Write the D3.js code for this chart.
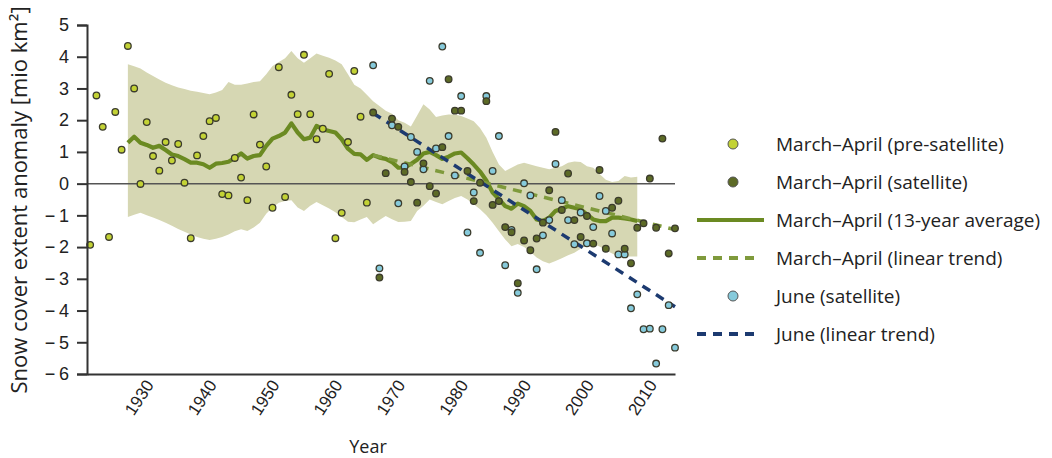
<!DOCTYPE html>
<html>
<head>
<meta charset="utf-8">
<script src="https://cdn.jsdelivr.net/npm/d3@7"></script>
<style>
  body { margin: 0; background: #fff; }
  svg { font-family: "Open Sans", sans-serif; }
</style>
</head>
<body>
<div id="chart"></div>
<script>
// March-April, pre-satellite (1922-1966)
var preYears = d3.range(1922, 1967);
var preValues = [-1.93, 2.78, 1.79, -1.68, 2.26, 1.07, 4.34, 3.0, -0.01, 1.94,
  0.87, 0.41, 1.31, 0.73, 1.25, 0.03, -1.72, 0.89, 1.5, 1.97,
  2.07, -0.33, -0.37, 0.81, 0.19, -0.52, 2.18, 1.23, 0.54, -0.76,
  3.67, -0.42, 2.8, 2.19, 4.06, 2.19, 1.4, 1.73, 3.46, -1.72,
  -0.92, 1.31, 3.55, 2.11, -0.6];

// satellite era (1967-2015)
var satYears = d3.range(1967, 2016);
var maSatValues = [2.24, -2.96, 0.33, 2.05, 1.79, 0.37, 0.05, -0.6, 0.64, -0.08,
  -0.31, 1.15, 3.29, 2.3, 2.3, 0.4, -0.55, 0.03, 2.6, -0.67,
  -0.55, -1.37, -1.53, -3.14, -1.79, -2.1, -1.73, -1.23, -0.21, 1.63,
  -0.83, 0.32, -1.15, -1.68, -1.02, -1.89, 0.43, -2.05, -0.76, -0.54,
  -2.05, -2.51, -1.39, -1.25, 0.16, -1.39, 1.42, -2.2, -1.41];
var juneValues = [3.73, -2.67, null, 1.84, -0.62, 0.54, 1.47, 1.0, 0.45, 3.24,
  1.11, 4.32, 1.5, 0.26, 2.76, -1.54, -0.28, -2.18, 2.76, 0.4,
  1.5, -2.57, -1.46, -3.44, 0.01, -0.37, -2.7, -1.63, -1.15, 0.62,
  -0.52, -1.15, -1.91, -0.91, -1.88, -1.37, -0.39, -0.86, -1.57, -2.23,
  -2.23, -3.93, -3.49, -4.59, -4.57, -5.67, -4.59, -3.83, -5.17];

// 13-year average with its range (1928-2009)
var avgYears = d3.range(1928, 2010);
var avgValues = [1.29, 1.48, 1.29, 1.22, 1.13, 1.19, 1.06, 0.92, 0.87, 0.77,
  0.66, 0.66, 0.61, 0.5, 0.63, 0.65, 0.69, 0.81, 0.95, 0.79,
  0.87, 0.9, 1.19, 1.42, 1.5, 1.61, 1.9, 1.61, 1.4, 1.45,
  1.82, 1.71, 1.66, 1.61, 1.4, 1.1, 0.94, 0.92, 0.75, 0.9,
  0.82, 0.78, 0.68, 0.5, 0.5, 0.62, 0.75, 0.95, 1.0, 0.9,
  0.78, 0.85, 0.95, 0.98, 0.8, 0.6, 0.38, 0.1, -0.28, -0.49,
  -0.71, -0.79, -0.63, -0.71, -0.86, -1.13, -1.18, -1.07, -0.86, -0.79,
  -0.71, -0.76, -0.81, -0.97, -1.13, -1.18, -1.18, -1.07, -1.07, -1.1,
  -1.13, -1.18];
var bandUpper = [3.76, 3.7, 3.63, 3.5, 3.39, 3.28, 3.18, 3.1, 3.03, 2.98,
  2.93, 2.9, 2.86, 2.82, 2.87, 2.95, 3.2, 3.12, 3.12, 3.16,
  3.2, 3.23, 3.45, 3.71, 3.83, 3.95, 4.18, 3.95, 3.81, 3.95,
  4.1, 4.03, 3.97, 3.88, 3.76, 3.45, 3.12, 3.0, 2.8, 2.6,
  2.45, 2.3, 2.2, 2.0, 1.92, 1.8, 2.15, 2.5, 2.34, 2.1,
  2.15, 2.18, 2.18, 2.13, 2.05, 1.97, 1.75, 1.45, 1.0, 0.6,
  0.4, 0.5, 0.6, 0.66, 0.6, 0.55, 0.5, 0.45, 0.5, 0.55,
  0.66, 0.7, 0.68, 0.55, 0.5, 0.3, 0.12, 0.05, 0.08, 0.24,
  0.19, 0.22];
var bandLower = [-1.05, -0.98, -0.92, -1.0, -1.07, -1.15, -1.23, -1.33, -1.43, -1.52,
  -1.6, -1.68, -1.74, -1.78, -1.74, -1.68, -1.6, -1.5, -1.44, -1.49,
  -1.38, -1.23, -0.95, -0.75, -0.6, -0.55, -0.52, -0.75, -0.86, -0.7,
  -0.58, -0.68, -0.78, -0.9, -1.05, -1.2, -1.22, -1.13, -1.05, -1.28,
  -1.15, -1.02, -1.12, -1.21, -1.2, -1.18, -0.86, -0.7, -0.5, -0.58,
  -0.65, -0.55, -0.45, -0.39, -0.5, -0.65, -0.81, -1.0, -1.23, -1.5,
  -1.76, -1.97, -1.9, -2.0, -2.15, -2.33, -2.45, -2.52, -2.44, -2.35,
  -2.26, -2.18, -2.05, -1.95, -1.9, -1.98, -2.1, -2.2, -2.3, -2.3,
  -2.3, -2.3];

// linear trends, end points [year, value]
var maTrend = [[1967, 0.9], [2015, -1.45]];
var juneTrend = [[1967, 2.22], [2015, -3.88]];

var yTicks = [5, 4, 3, 2, 1, 0, -1, -2, -3, -4, -5, -6];
var xTicks = [1930, 1940, 1950, 1960, 1970, 1980, 1990, 2000, 2010];

var legendItems = [
  {label: "March\u2013April (pre-satellite)", kind: "dot", color: "#c3d235"},
  {label: "March\u2013April (satellite)", kind: "dot", color: "#5c6a26"},
  {label: "March\u2013April (13-year average)", kind: "solid", color: "#6b8a22"},
  {label: "March\u2013April (linear trend)", kind: "dash", color: "#7f9a3c"},
  {label: "June (satellite)", kind: "dot", color: "#86cadb"},
  {label: "June (linear trend)", kind: "dash", color: "#1c3a70"}
];

var width = 1052, height = 458;
var svg = d3.select("#chart").append("svg")
    .attr("width", width)
    .attr("height", height);

var x = d3.scaleLinear().domain([1921.5, 2015]).range([87, 675]);
var y = d3.scaleLinear().domain([-6, 5]).range([374, 25]);

// band
var bandData = avgYears.map(function(yr, i) {
    return {year: yr, lo: bandLower[i], hi: bandUpper[i]};
});
svg.append("path")
    .datum(bandData)
    .attr("fill", "#d6d7b3")
    .attr("d", d3.area()
        .x(function(d) { return x(d.year); })
        .y0(function(d) { return y(d.lo); })
        .y1(function(d) { return y(d.hi); }));

// zero line
svg.append("line")
    .attr("x1", x.range()[0]).attr("x2", x.range()[1])
    .attr("y1", y(0)).attr("y2", y(0))
    .style("stroke", "#555")
    .style("stroke-width", 1.5);

// 13-year average
svg.append("path")
    .datum(avgYears.map(function(yr, i) { return [yr, avgValues[i]]; }))
    .attr("fill", "none")
    .style("stroke", "#6b8a22")
    .style("stroke-width", 4.2)
    .style("stroke-linejoin", "round")
    .attr("d", d3.line().x(function(d) { return x(d[0]); }).y(function(d) { return y(d[1]); }));

// trend lines
var trendLine = d3.line().x(function(d) { return x(d[0]); }).y(function(d) { return y(d[1]); });
svg.append("path")
    .datum(maTrend)
    .attr("fill", "none")
    .style("stroke", "#7f9a3c")
    .style("stroke-width", 3.5)
    .style("stroke-dasharray", "9,7")
    .attr("d", trendLine);
svg.append("path")
    .datum(juneTrend)
    .attr("fill", "none")
    .style("stroke", "#1c3a70")
    .style("stroke-width", 3.5)
    .style("stroke-dasharray", "9,7")
    .attr("d", trendLine);

// dots
function drawDots(years, values, color) {
    var pts = years.map(function(yr, i) { return {year: yr, v: values[i]}; })
        .filter(function(d) { return d.v !== null; });
    svg.append("g").selectAll("circle")
        .data(pts)
        .enter()
        .append("circle")
        .attr("cx", function(d) { return x(d.year); })
        .attr("cy", function(d) { return y(d.v); })
        .attr("r", 3.3)
        .style("fill", color)
        .style("stroke", "#3b3b2c")
        .style("stroke-width", 1.3);
}
drawDots(preYears, preValues, legendItems[0].color);
drawDots(satYears, juneValues, legendItems[4].color);
drawDots(satYears, maSatValues, legendItems[1].color);

// axes
var yAxis = svg.append("g")
    .attr("transform", "translate(87,0)")
    .call(d3.axisLeft(y).tickValues(yTicks).tickSize(10).tickPadding(8)
        .tickFormat(function(d) { return d < 0 ? "\u2212\u2009" + (-d) : d; }));
yAxis.selectAll("text").style("font-size", "18px").style("fill", "#222");

var xAxis = svg.append("g")
    .attr("transform", "translate(0,374)")
    .call(d3.axisBottom(x).tickValues(xTicks).tickSize(0).tickFormat(d3.format("d")));
xAxis.selectAll("text")
    .style("font-size", "17px")
    .style("fill", "#222")
    .style("text-anchor", "end")
    .attr("dy", "0.35em")
    .attr("transform", "translate(6,6) rotate(-57)");

svg.selectAll(".domain, .tick line")
    .style("stroke", "#333")
    .style("stroke-width", 2);

// axis titles
svg.append("text")
    .attr("transform", "translate(27,200) rotate(-90)")
    .attr("text-anchor", "middle")
    .style("font-size", "22px")
    .style("fill", "#222")
    .text("Snow cover extent anomaly [mio km\u00b2]");

svg.append("text")
    .attr("x", 368)
    .attr("y", 453)
    .attr("text-anchor", "middle")
    .style("font-size", "18px")
    .style("fill", "#222")
    .text("Year");

// legend
var legend = svg.append("g");
legendItems.forEach(function(item, i) {
    var ly = 144 + i * 38;
    if (item.kind === "dot") {
        legend.append("circle")
            .attr("cx", 733).attr("cy", ly)
            .attr("r", 5)
            .style("fill", item.color)
            .style("stroke", "#555")
            .style("stroke-width", 1);
    } else {
        legend.append("line")
            .attr("x1", 697).attr("x2", item.kind === "solid" ? 764 : 757)
            .attr("y1", ly).attr("y2", ly)
            .style("stroke", item.color)
            .style("stroke-width", 4)
            .style("stroke-dasharray", item.kind === "dash" ? "9,7" : null);
    }
    legend.append("text")
        .attr("x", 776)
        .attr("y", ly)
        .attr("dy", "0.35em")
        .style("font-size", "19px")
        .style("fill", "#222")
        .text(item.label);
});
</script>
</body>
</html>
